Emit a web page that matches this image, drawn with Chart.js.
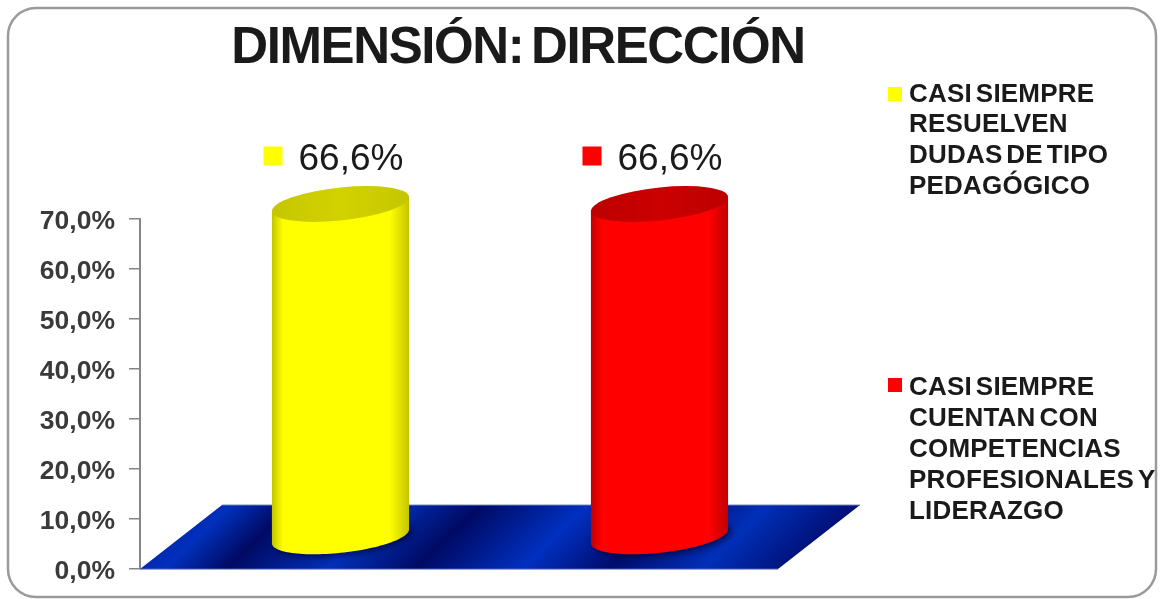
<!DOCTYPE html>
<html lang="es">
<head>
<meta charset="utf-8">
<title>Dimensión: Dirección</title>
<script src="https://cdn.jsdelivr.net/npm/chart.js@4/dist/chart.umd.min.js"></script>
<style>
  html, body { margin: 0; padding: 0; background: #fff; overflow: hidden; }
  canvas { display: block; }
</style>
</head>
<body>
<canvas id="chart" width="1161" height="599"></canvas>
<script>
// Chart data
const chartTitle = 'DIMENSIÓN: DIRECCIÓN';
const categories = ['Dirección'];
const yellowValues = [66.6];
const redValues = [66.6];
const yellowLegend = ['CASI SIEMPRE', 'RESUELVEN', 'DUDAS DE TIPO', 'PEDAGÓGICO'];
const redLegend = ['CASI SIEMPRE', 'CUENTAN CON', 'COMPETENCIAS', 'PROFESIONALES Y', 'LIDERAZGO'];

const SANS = '"Liberation Sans", Arial, sans-serif';
const percent = v => v.toFixed(1).replace('.', ',') + '%';

// Oblique depth of the 3D floor: full offset from front edge to back edge
const DEPTH_X = 82, DEPTH_Y = -64;

const palettes = [
  { edge: '#c4c400', body: '#ffff00', cap: '#c6c600', capLight: '#d2d200' },
  { edge: '#c00000', body: '#ff0000', cap: '#bc0000', capLight: '#cc0000' }
];

// Bar controller whose elements are painted as upright cylinders
class CylinderController extends Chart.BarController {
  draw() {
    const ctx = this.chart.ctx;
    const pal = palettes[this.index];
    this._cachedMeta.data.forEach(bar => {
      const cx = bar.x + DEPTH_X / 2;
      const topY = bar.y + DEPTH_Y / 2;
      const botY = bar.base + DEPTH_Y / 2;
      const rx = bar.width / 2;
      const ry = 16.5, skew = -7 / rx;

      const body = ctx.createLinearGradient(cx - rx, 0, cx + rx, 0);
      body.addColorStop(0, pal.edge);
      body.addColorStop(0.08, pal.body);
      body.addColorStop(0.86, pal.body);
      body.addColorStop(1, pal.edge);

      // Contact shadow on the floor
      ctx.save();
      ctx.transform(1, skew, 0, 1, cx + 3, botY + 2);
      ctx.beginPath();
      ctx.ellipse(0, 0, rx + 1, ry + 1, 0, 0, Math.PI * 2);
      ctx.fillStyle = 'rgba(0,0,50,0.6)';
      ctx.filter = 'blur(3px)';
      ctx.fill();
      ctx.restore();

      // Shaft: straight sides closed by the lower half of the base ellipse
      ctx.beginPath();
      ctx.moveTo(cx - rx, topY - skew * rx);
      ctx.lineTo(cx - rx, botY - skew * rx);
      for (let a = Math.PI; a >= 0; a -= Math.PI / 60) {
        const px = rx * Math.cos(a), py = ry * Math.sin(a);
        ctx.lineTo(cx + px, botY + py + skew * px);
      }
      ctx.lineTo(cx + rx, topY + skew * rx);
      ctx.closePath();
      ctx.fillStyle = body;
      ctx.fill();

      // Darker top face
      const capFill = ctx.createLinearGradient(cx - rx, 0, cx + rx, 0);
      capFill.addColorStop(0, pal.cap);
      capFill.addColorStop(0.5, pal.capLight);
      capFill.addColorStop(1, pal.cap);
      ctx.save();
      ctx.transform(1, skew, 0, 1, cx, topY);
      ctx.beginPath();
      ctx.ellipse(0, 0, rx, ry, 0, 0, Math.PI * 2);
      ctx.restore();
      ctx.fillStyle = capFill;
      ctx.fill();

      // Value label with its colour key above the cylinder
      const labelY = topY - 44.5;
      ctx.fillStyle = pal.body;
      ctx.fillRect(cx - 77, labelY - 13, 19, 19);
      ctx.fillStyle = '#1a1a1a';
      ctx.font = '37px ' + SANS;
      ctx.textAlign = 'left';
      ctx.textBaseline = 'middle';
      ctx.fillText(percent(this.getDataset().data[0]), cx - 42, labelY);
    });
  }
}
CylinderController.id = 'cylinder';
CylinderController.defaults = Chart.BarController.defaults;
CylinderController.overrides = Chart.BarController.overrides;
Chart.register(CylinderController);

// Rounded frame, floor, title and the multi-line legend
const decorations = {
  id: 'decorations',
  beforeDraw(chart) {
    const { ctx } = chart;
    ctx.save();
    ctx.fillStyle = '#ffffff';
    ctx.fillRect(0, 0, chart.width, chart.height);
    ctx.beginPath();
    ctx.roundRect(8, 8, 1148, 589, 28);
    ctx.lineWidth = 2.5;
    ctx.strokeStyle = '#9a9a9a';
    ctx.stroke();

    ctx.fillStyle = '#1a1a1a';
    ctx.font = 'bold 51px ' + SANS;
    ctx.letterSpacing = '-1.4px';
    ctx.wordSpacing = '-5px';
    ctx.textAlign = 'center';
    ctx.textBaseline = 'middle';
    ctx.fillText(chartTitle, 518, 49);
    ctx.letterSpacing = '0px';
    ctx.wordSpacing = '0px';

    const legendItem = (lines, keyColor, keyY, firstY, step) => {
      ctx.fillStyle = keyColor;
      ctx.fillRect(888, keyY, 14, 14);
      ctx.fillStyle = '#1a1a1a';
      ctx.font = 'bold 26px ' + SANS;
      ctx.letterSpacing = '0.2px';
      ctx.wordSpacing = '-3.5px';
      ctx.textAlign = 'left';
      lines.forEach((line, i) => ctx.fillText(line, 909, firstY + i * step));
      ctx.letterSpacing = '0px';
      ctx.wordSpacing = '0px';
    };
    legendItem(yellowLegend, '#ffff00', 87, 94.5, 30.7);
    legendItem(redLegend, '#ff0000', 378, 387.5, 31);
    ctx.restore();
  },
  beforeDatasetsDraw(chart) {
    const { ctx, chartArea } = chart;
    const { left, right, bottom } = chartArea;
    ctx.save();
    // Diagonal light and dark bands across the floor
    const band = ctx.createLinearGradient(left, bottom - 5, left + 323, bottom + 328);
    [[0, '#0028b0'], [0.045, '#0030bc'], [0.136, '#000a64'], [0.29, '#0030b8'],
     [0.42, '#000a64'], [0.58, '#0030c0'], [0.71, '#000c6c'], [0.85, '#0030b8'],
     [1, '#000c70']].forEach(([s, c]) => band.addColorStop(s, c));
    ctx.beginPath();
    ctx.moveTo(left, bottom);
    ctx.lineTo(left + DEPTH_X, bottom + DEPTH_Y);
    ctx.lineTo(right + DEPTH_X, bottom + DEPTH_Y);
    ctx.lineTo(right, bottom);
    ctx.closePath();
    ctx.fillStyle = band;
    ctx.fill();
    // Thin highlights along the long edges
    ctx.beginPath();
    ctx.moveTo(left + DEPTH_X, bottom + DEPTH_Y);
    ctx.lineTo(right + DEPTH_X, bottom + DEPTH_Y);
    ctx.moveTo(left, bottom);
    ctx.lineTo(right, bottom);
    ctx.lineWidth = 1;
    ctx.strokeStyle = '#5a6fb4';
    ctx.stroke();
    ctx.restore();
  }
};

new Chart(document.getElementById('chart'), {
  type: 'cylinder',
  data: {
    labels: categories,
    datasets: [
      { label: yellowLegend.join(' '), data: yellowValues, backgroundColor: '#ffff00', clip: false },
      { label: redLegend.join(' '), data: redValues, backgroundColor: '#ff0000', clip: false }
    ]
  },
  plugins: [decorations],
  options: {
    responsive: false,
    animation: false,
    categoryPercentage: 1,
    barPercentage: 0.43,
    layout: { padding: { left: 0, top: 219, right: 383, bottom: 29 } },
    plugins: { legend: { display: false }, title: { display: false }, tooltip: { enabled: false } },
    scales: {
      x: { display: false },
      y: {
        min: 0,
        max: 70,
        afterFit(scale) { scale.width = 140; },
        ticks: {
          stepSize: 10,
          padding: 14,
          labelOffset: 3,
          color: '#3a3a3a',
          font: { family: SANS, size: 26.5, weight: 'bold' },
          callback: v => percent(v)
        },
        grid: { drawOnChartArea: false, tickLength: 11, color: '#868686', lineWidth: 1.5 },
        border: { color: '#868686', width: 2 }
      }
    }
  }
});
</script>
</body>
</html>
